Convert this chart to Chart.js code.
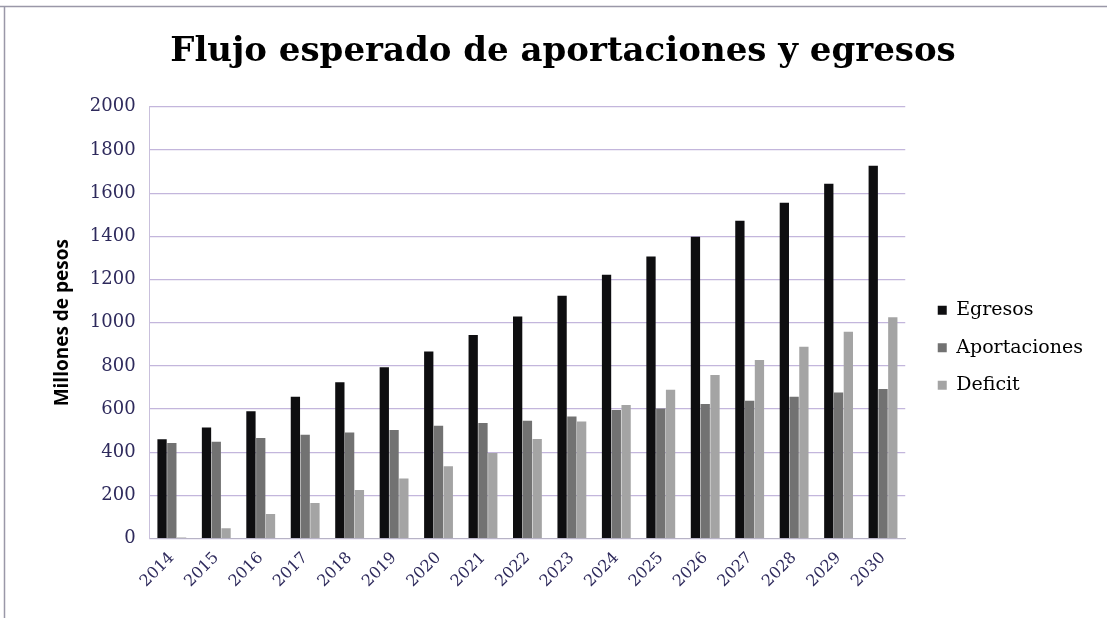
<!DOCTYPE html>
<html>
<head>
<meta charset="utf-8">
<script src="https://cdn.jsdelivr.net/npm/chart.js@4.4.0/dist/chart.umd.min.js"></script>
<style>
  html, body { margin: 0; padding: 0; background: #ffffff; }
  #wrap { position: relative; width: 1107px; height: 618px; }
</style>
</head>
<body>
<div id="wrap"><canvas id="c" width="1107" height="618"></canvas></div>
<script>
const years = ['2014','2015','2016','2017','2018','2019','2020','2021','2022','2023','2024','2025','2026','2027','2028','2029','2030'];
const egresos = [460, 515, 590, 657, 724, 794, 867, 943, 1029, 1125, 1222, 1307, 1398, 1472, 1556, 1644, 1727];
const aportaciones = [443, 449, 466, 481, 492, 503, 523, 535, 546, 566, 596, 603, 623, 639, 657, 677, 693];
const deficit = [5, 48, 114, 165, 225, 279, 335, 397, 461, 543, 619, 690, 758, 827, 889, 958, 1025];
const seriesNames = ['Egresos', 'Aportaciones', 'Deficit'];
const yTicks = { min: 0, max: 2000, step: 200 };

const framePlugin = {
  id: 'frame',
  afterLayout(chart) {
    // nudge the legend a little further from the plot, as in the original
    if (chart.legend) { chart.legend.left += 14; chart.legend.right += 14; }
  },
  beforeDraw(chart) {
    const ctx = chart.ctx;
    ctx.save();
    ctx.fillStyle = '#ffffff';
    ctx.fillRect(0, 0, chart.width, chart.height);
    ctx.strokeStyle = '#9a98a8';
    ctx.lineWidth = 1.5;
    ctx.beginPath();
    ctx.moveTo(0, 6.5); ctx.lineTo(chart.width, 6.5);
    ctx.moveTo(4.5, 6); ctx.lineTo(4.5, chart.height);
    ctx.stroke();
    ctx.restore();
  }
};

new Chart(document.getElementById('c'), {
  type: 'bar',
  data: {
    labels: years,
    datasets: [
      { label: seriesNames[0], data: egresos, backgroundColor: '#0e0e10' },
      { label: seriesNames[1], data: aportaciones, backgroundColor: '#727272' },
      { label: seriesNames[2], data: deficit, backgroundColor: '#a4a4a4' }
    ]
  },
  options: {
    responsive: false,
    animation: false,
    devicePixelRatio: 1,
    layout: { padding: { left: 47, right: 28, top: 24, bottom: 25 } },
    datasets: { bar: { categoryPercentage: 0.66, barPercentage: 0.95 } },
    plugins: {
      title: {
        display: true,
        text: 'Flujo esperado de aportaciones y egresos',
        color: '#000000',
        font: { family: 'DejaVu Serif', size: 34, weight: 'bold' },
        padding: { top: 8, bottom: 34 }
      },
      legend: {
        position: 'right',
        align: 'center',
        title: {
          display: true,
          text: ' ',
          font: { size: 12 },
          padding: { top: 0, bottom: 64 }
        },
        labels: {
          color: '#000000',
          font: { family: 'DejaVu Serif', size: 19 },
          boxWidth: 9,
          boxHeight: 9,
          padding: 18.5
        }
      },
      tooltip: { enabled: false }
    },
    scales: {
      x: {
        grid: { display: false },
        border: { color: '#b7b3c6', width: 1 },
        ticks: {
          color: '#2e2a5c',
          font: { family: 'DejaVu Serif', size: 16 },
          minRotation: 45,
          maxRotation: 45,
          padding: 2
        }
      },
      y: {
        min: yTicks.min,
        max: yTicks.max,
        grid: { color: '#c3b6dc', lineWidth: 1.2, drawTicks: false },
        border: { color: '#c9c0dc', width: 1 },
        ticks: {
          stepSize: yTicks.step,
          color: '#2e2a5c',
          font: { family: 'DejaVu Serif', size: 18 },
          padding: 14,
          callback: (v) => String(v)
        },
        title: {
          display: true,
          text: 'Millones de pesos',
          color: '#000000',
          font: { family: 'Open Sans', size: 19, weight: 'bold' },
          padding: { bottom: 2 }
        }
      }
    }
  },
  plugins: [framePlugin]
});
</script>
</body>
</html>
